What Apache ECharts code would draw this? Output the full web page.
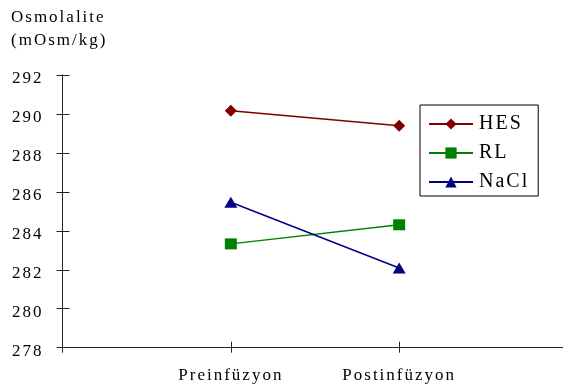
<!DOCTYPE html>
<html>
<head>
<meta charset="utf-8">
<script src="https://cdn.jsdelivr.net/npm/echarts@6/dist/echarts.min.js"></script>
<style>
html, body { margin: 0; padding: 0; background: #fff; }
#c { width: 563px; height: 386px; }
</style>
</head>
<body>
<div id="c"></div>
<script>
const categories = ['Preinfüzyon', 'Postinfüzyon'];
const hes = [290.17, 289.4];
const rl = [283.33, 284.31];
const nacl = [285.47, 282.09];
const yMin = 278, yMax = 292, yStep = 2;
const titleLines = ['Osmolalite', '(mOsm/kg)'];

// letter spacing for all chart text (canvas)
(function () {
  const P = CanvasRenderingContext2D.prototype;
  const f = P.fillText, m = P.measureText;
  P.fillText = function () { this.letterSpacing = '2px'; return f.apply(this, arguments); };
  P.measureText = function () { this.letterSpacing = '2px'; return m.apply(this, arguments); };
})();

const axisCats = [''].concat(categories, ['']);
const pad = arr => [null].concat(arr, [null]);
const FONT = "Liberation Serif";

const chart = echarts.init(document.getElementById('c'), null, { renderer: 'canvas' });
chart.setOption({
  animation: false,
  backgroundColor: '#fff',
  textStyle: { fontFamily: FONT },
  title: {
    text: titleLines.join('\n'),
    left: 11, top: 6, padding: 0,
    textStyle: { fontFamily: FONT, fontSize: 17, fontWeight: 'normal', color: '#000', lineHeight: 23 }
  },
  grid: { left: 62.5, width: 505, top: 75, bottom: 38.3, outerBoundsMode: 'none' },
  legend: {
    orient: 'vertical',
    left: 420, top: 105,
    padding: [8, 9, 3, 8],
    itemWidth: 44, itemHeight: 14, itemGap: 7,
    borderColor: '#000', borderWidth: 1, borderRadius: 0,
    backgroundColor: '#fff',
    textStyle: { fontFamily: FONT, fontSize: 20, color: '#000', padding: [0, 0, 0, 1] },
    data: ['HES', 'RL', 'NaCl']
  },
  xAxis: [{
    type: 'category', data: axisCats, boundaryGap: false,
    axisLine: { lineStyle: { color: '#222', width: 1 } },
    axisTick: { show: true, inside: false, length: 5, interval: 0, lineStyle: { color: '#222' } },
    axisLabel: { interval: 0, margin: 18, fontFamily: FONT, fontSize: 17, color: '#000' },
    splitLine: { show: false }
  }, {
    type: 'category', data: axisCats, boundaryGap: false, position: 'bottom', offset: 0,
    axisLine: { show: true, lineStyle: { color: '#222', width: 1 } },
    axisTick: { show: true, inside: true, length: 6, interval: 0, lineStyle: { color: '#222' } },
    axisLabel: { show: false },
    splitLine: { show: false }
  }],
  yAxis: [{
    type: 'value', min: yMin, max: yMax, interval: yStep,
    axisLine: { show: true, lineStyle: { color: '#222', width: 1 } },
    axisTick: { show: true, inside: false, length: 6, lineStyle: { color: '#222' } },
    axisLabel: { margin: 19, fontFamily: FONT, fontSize: 17, color: '#000', verticalAlign: 'top', lineHeight: 8 },
    splitLine: { show: false }
  }, {
    type: 'value', min: yMin, max: yMax, interval: yStep, position: 'left', offset: 0,
    axisLine: { show: true, lineStyle: { color: '#222', width: 1 } },
    axisTick: { show: true, inside: true, length: 7, lineStyle: { color: '#222' } },
    axisLabel: { show: false },
    splitLine: { show: false }
  }],
  series: [
    { name: 'HES', type: 'line', data: pad(hes), symbol: 'diamond', symbolSize: [12, 12],
      itemStyle: { color: '#800000' }, lineStyle: { color: '#800000', width: 1.5 } },
    { name: 'RL', type: 'line', data: pad(rl), symbol: 'rect', symbolSize: [12, 11],
      itemStyle: { color: '#008000' }, lineStyle: { color: '#008000', width: 1.5 } },
    { name: 'NaCl', type: 'line', data: pad(nacl), symbol: 'triangle', symbolSize: [13, 11],
      itemStyle: { color: '#000080' }, lineStyle: { color: '#000080', width: 1.5 } }
  ]
});
</script>
</body>
</html>
